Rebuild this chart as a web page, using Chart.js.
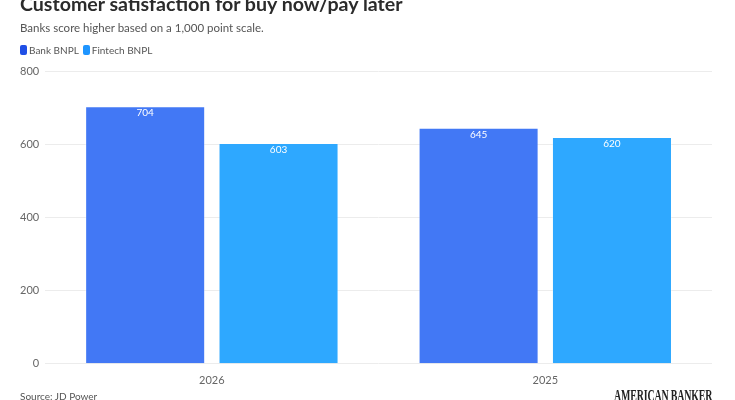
<!DOCTYPE html>
<html>
<head>
<meta charset="utf-8">
<script src="https://cdn.jsdelivr.net/npm/chart.js@4.4.1/dist/chart.umd.min.js"></script>
<style>
  html, body { margin: 0; padding: 0; background: #fff; }
  body { width: 735px; height: 400px; position: relative; overflow: hidden; font-family: Lato, "Open Sans", sans-serif; }
  #title { position: absolute; left: 20px; top: -8px; font-size: 19.6px; font-weight: 700; color: #2b2b2b; white-space: nowrap; }
  #subtitle { position: absolute; left: 20px; top: 21px; font-size: 11.5px; color: #555; white-space: nowrap; }
  #legend { position: absolute; left: 20px; top: 44px; font-size: 10px; color: #555; display: flex; align-items: center; }
  .item { display: flex; align-items: center; margin-right: 4px; }
  .sw { width: 7px; height: 10px; border-radius: 2px; margin-right: 2px; display: inline-block; }
  #wrap { position: absolute; left: 0; top: 0; width: 735px; height: 400px; }
  #source { position: absolute; left: 20px; top: 390px; font-size: 10px; color: #555; white-space: nowrap; }
  #logo { position: absolute; left: 614px; top: 386px; font-family: "Liberation Serif", "DejaVu Serif", serif; font-size: 17px; font-weight: 700; color: #222; transform: scaleX(0.585); transform-origin: left top; white-space: nowrap; letter-spacing: -0.3px; }
</style>
</head>
<body>
<div id="wrap"><canvas id="c"></canvas></div>
<div id="title">Customer satisfaction for buy now/pay later</div>
<div id="subtitle">Banks score higher based on a 1,000 point scale.</div>
<div id="legend"></div>
<div id="source">Source: JD Power</div>
<div id="logo">AMERICAN BANKER</div>
<script>
const categories = ["2026", "2025"];
const seriesNames = ["Bank BNPL", "Fintech BNPL"];
const bankValues = [704, 645];
const fintechValues = [603, 620];
const yTicks = [0, 200, 400, 600, 800];

const barColors = ["#4278F5", "#2EA8FF"];
const legendColors = ["#1F4FE6", "#1E95FF"];

const legend = document.getElementById('legend');
seriesNames.forEach((n, i) => {
  const it = document.createElement('div');
  it.className = 'item';
  it.innerHTML = '<span class="sw" style="background:' + legendColors[i] + '"></span><span>' + n + '</span>';
  legend.appendChild(it);
});

const valueLabels = {
  id: 'valueLabels',
  afterDatasetsDraw(chart) {
    const ctx = chart.ctx;
    ctx.save();
    ctx.fillStyle = '#ffffff';
    ctx.font = '10px Lato, sans-serif';
    ctx.textAlign = 'center';
    ctx.textBaseline = 'top';
    chart.data.datasets.forEach((ds, di) => {
      chart.getDatasetMeta(di).data.forEach((bar, i) => {
        ctx.fillText(String(ds.data[i]), bar.x, bar.y + 2);
      });
    });
    ctx.restore();
  }
};

new Chart(document.getElementById('c'), {
  type: 'bar',
  data: {
    labels: categories,
    datasets: [
      { label: seriesNames[0], data: bankValues, backgroundColor: barColors[0], borderColor: 'rgba(255,255,255,0.35)', borderWidth: 1 },
      { label: seriesNames[1], data: fintechValues, backgroundColor: barColors[1], borderColor: 'rgba(255,255,255,0.35)', borderWidth: 1 }
    ]
  },
  options: {
    responsive: true,
    maintainAspectRatio: false,
    animation: false,
    layout: { padding: { top: 71, right: 23, bottom: 11, left: 14 } },
    plugins: { legend: { display: false }, tooltip: { enabled: false }, title: { display: false } },
    scales: {
      x: {
        grid: { display: false },
        border: { display: false },
        ticks: { color: '#666', font: { family: 'Lato', size: 11 }, padding: 2 },
        categoryPercentage: 0.796,
        barPercentage: 0.872
      },
      y: {
        min: 0, max: 800,
        afterBuildTicks(scale) { scale.ticks = yTicks.map(v => ({ value: v })); },
        grid: { color: '#ececec', drawTicks: false },
        border: { display: false },
        ticks: { color: '#666', font: { family: 'Lato', size: 11 }, padding: 6 }
      }
    }
  },
  plugins: [valueLabels]
});
</script>
</body>
</html>
